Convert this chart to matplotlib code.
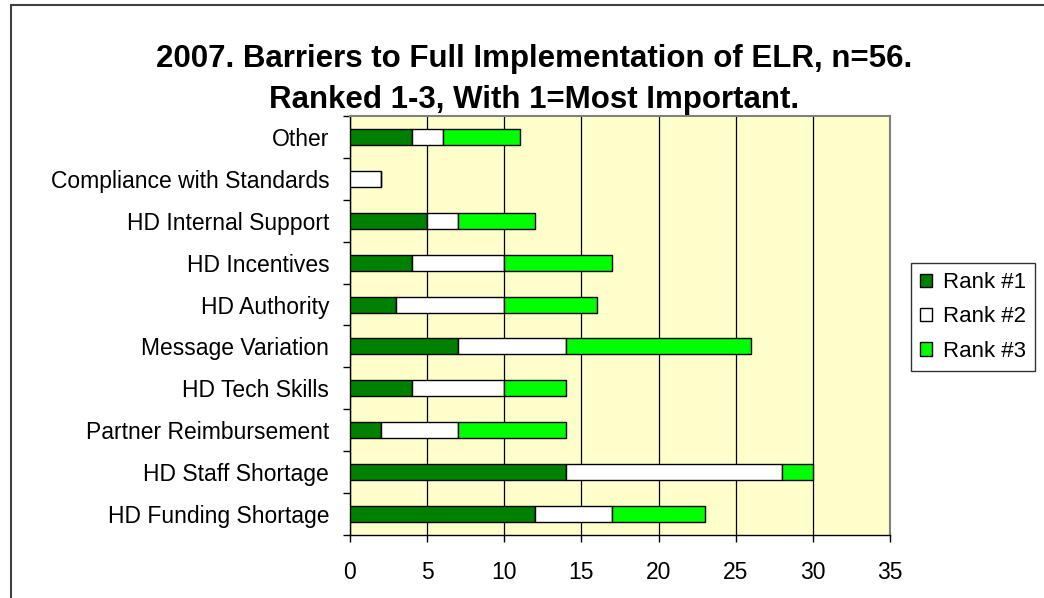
import numpy as np
import matplotlib
matplotlib.use("Agg")
import matplotlib.pyplot as plt
from matplotlib.patches import Rectangle

plt.rcParams['font.family'] = ['Liberation Sans', 'DejaVu Sans']

categories = ["HD Funding Shortage", "HD Staff Shortage", "Partner Reimbursement",
              "HD Tech Skills", "Message Variation", "HD Authority", "HD Incentives",
              "HD Internal Support", "Compliance with Standards", "Other"]
rank1 = [12, 14, 2, 4, 7, 3, 4, 5, 0, 4]
rank2 = [5, 14, 5, 6, 7, 7, 6, 2, 2, 2]
rank3 = [6, 2, 7, 4, 12, 6, 7, 5, 0, 5]
series_names = ["Rank #1", "Rank #2", "Rank #3"]
colors = ["#008000", "#FFFFFF", "#00FF00"]
x_ticks = [0, 5, 10, 15, 20, 25, 30, 35]

W, H = 1044, 598
fig = plt.figure(figsize=(W / 100, H / 100), dpi=100)
ax = fig.add_axes([350 / W, 1 - 535 / H, 540 / W, 419 / H])
ax.set_facecolor("#FFFFCC")

y = np.arange(len(categories))
left = np.zeros(len(categories))
for vals, name, c in zip([rank1, rank2, rank3], series_names, colors):
    vals = np.array(vals, dtype=float)
    ax.barh(y, vals, left=left, height=0.38, color=c, edgecolor="black",
            linewidth=1.0, label=name, zorder=3)
    left += vals

ax.set_xlim(0, 35)
ax.set_ylim(-0.5, len(categories) - 0.5)
ax.set_xticks(x_ticks)
ax.set_xticklabels([str(v) for v in x_ticks], fontsize=16.5)
ax.set_yticks(y)
ax.set_yticklabels(categories, fontsize=16.5)
ax.set_yticks(np.arange(-0.5, len(categories), 1), minor=True)
ax.tick_params(axis="y", which="major", length=0, pad=15)
ax.tick_params(axis="y", which="minor", length=5, direction="out", width=1)
ax.tick_params(axis="x", length=5, direction="out", width=1, pad=14)
ax.grid(axis="x", color="black", linewidth=0.9, zorder=1)
ax.set_axisbelow(True)
for s in ["top", "right"]:
    ax.spines[s].set_color("#808080")
    ax.spines[s].set_linewidth(1.5)
for s in ["left", "bottom"]:
    ax.spines[s].set_color("black")
    ax.spines[s].set_linewidth(1.0)

fig.text(534 / W, 1 - 67 / H, "2007. Barriers to Full Implementation of ELR, n=56.",
         ha="center", va="baseline", fontsize=22.5, fontweight="bold")
fig.text(534 / W, 1 - 108 / H, "Ranked 1-3, With 1=Most Important.",
         ha="center", va="baseline", fontsize=22.5, fontweight="bold")

leg = fig.legend(loc="center", bbox_to_anchor=(973 / W, 1 - 317 / H), fontsize=16,
                 frameon=True, fancybox=False, edgecolor="black",
                 handlelength=0.55, handleheight=0.55, handletextpad=0.5,
                 borderpad=0.4, borderaxespad=0, labelspacing=0.6)
leg.get_frame().set_linewidth(1.0)

fig.patches.append(Rectangle((11 / W, -0.1), 1.2, 1.1 - 5 / H, transform=fig.transFigure,
                             fill=False, edgecolor="#404040", linewidth=1.5))

fig.savefig("out.png", dpi=100)
